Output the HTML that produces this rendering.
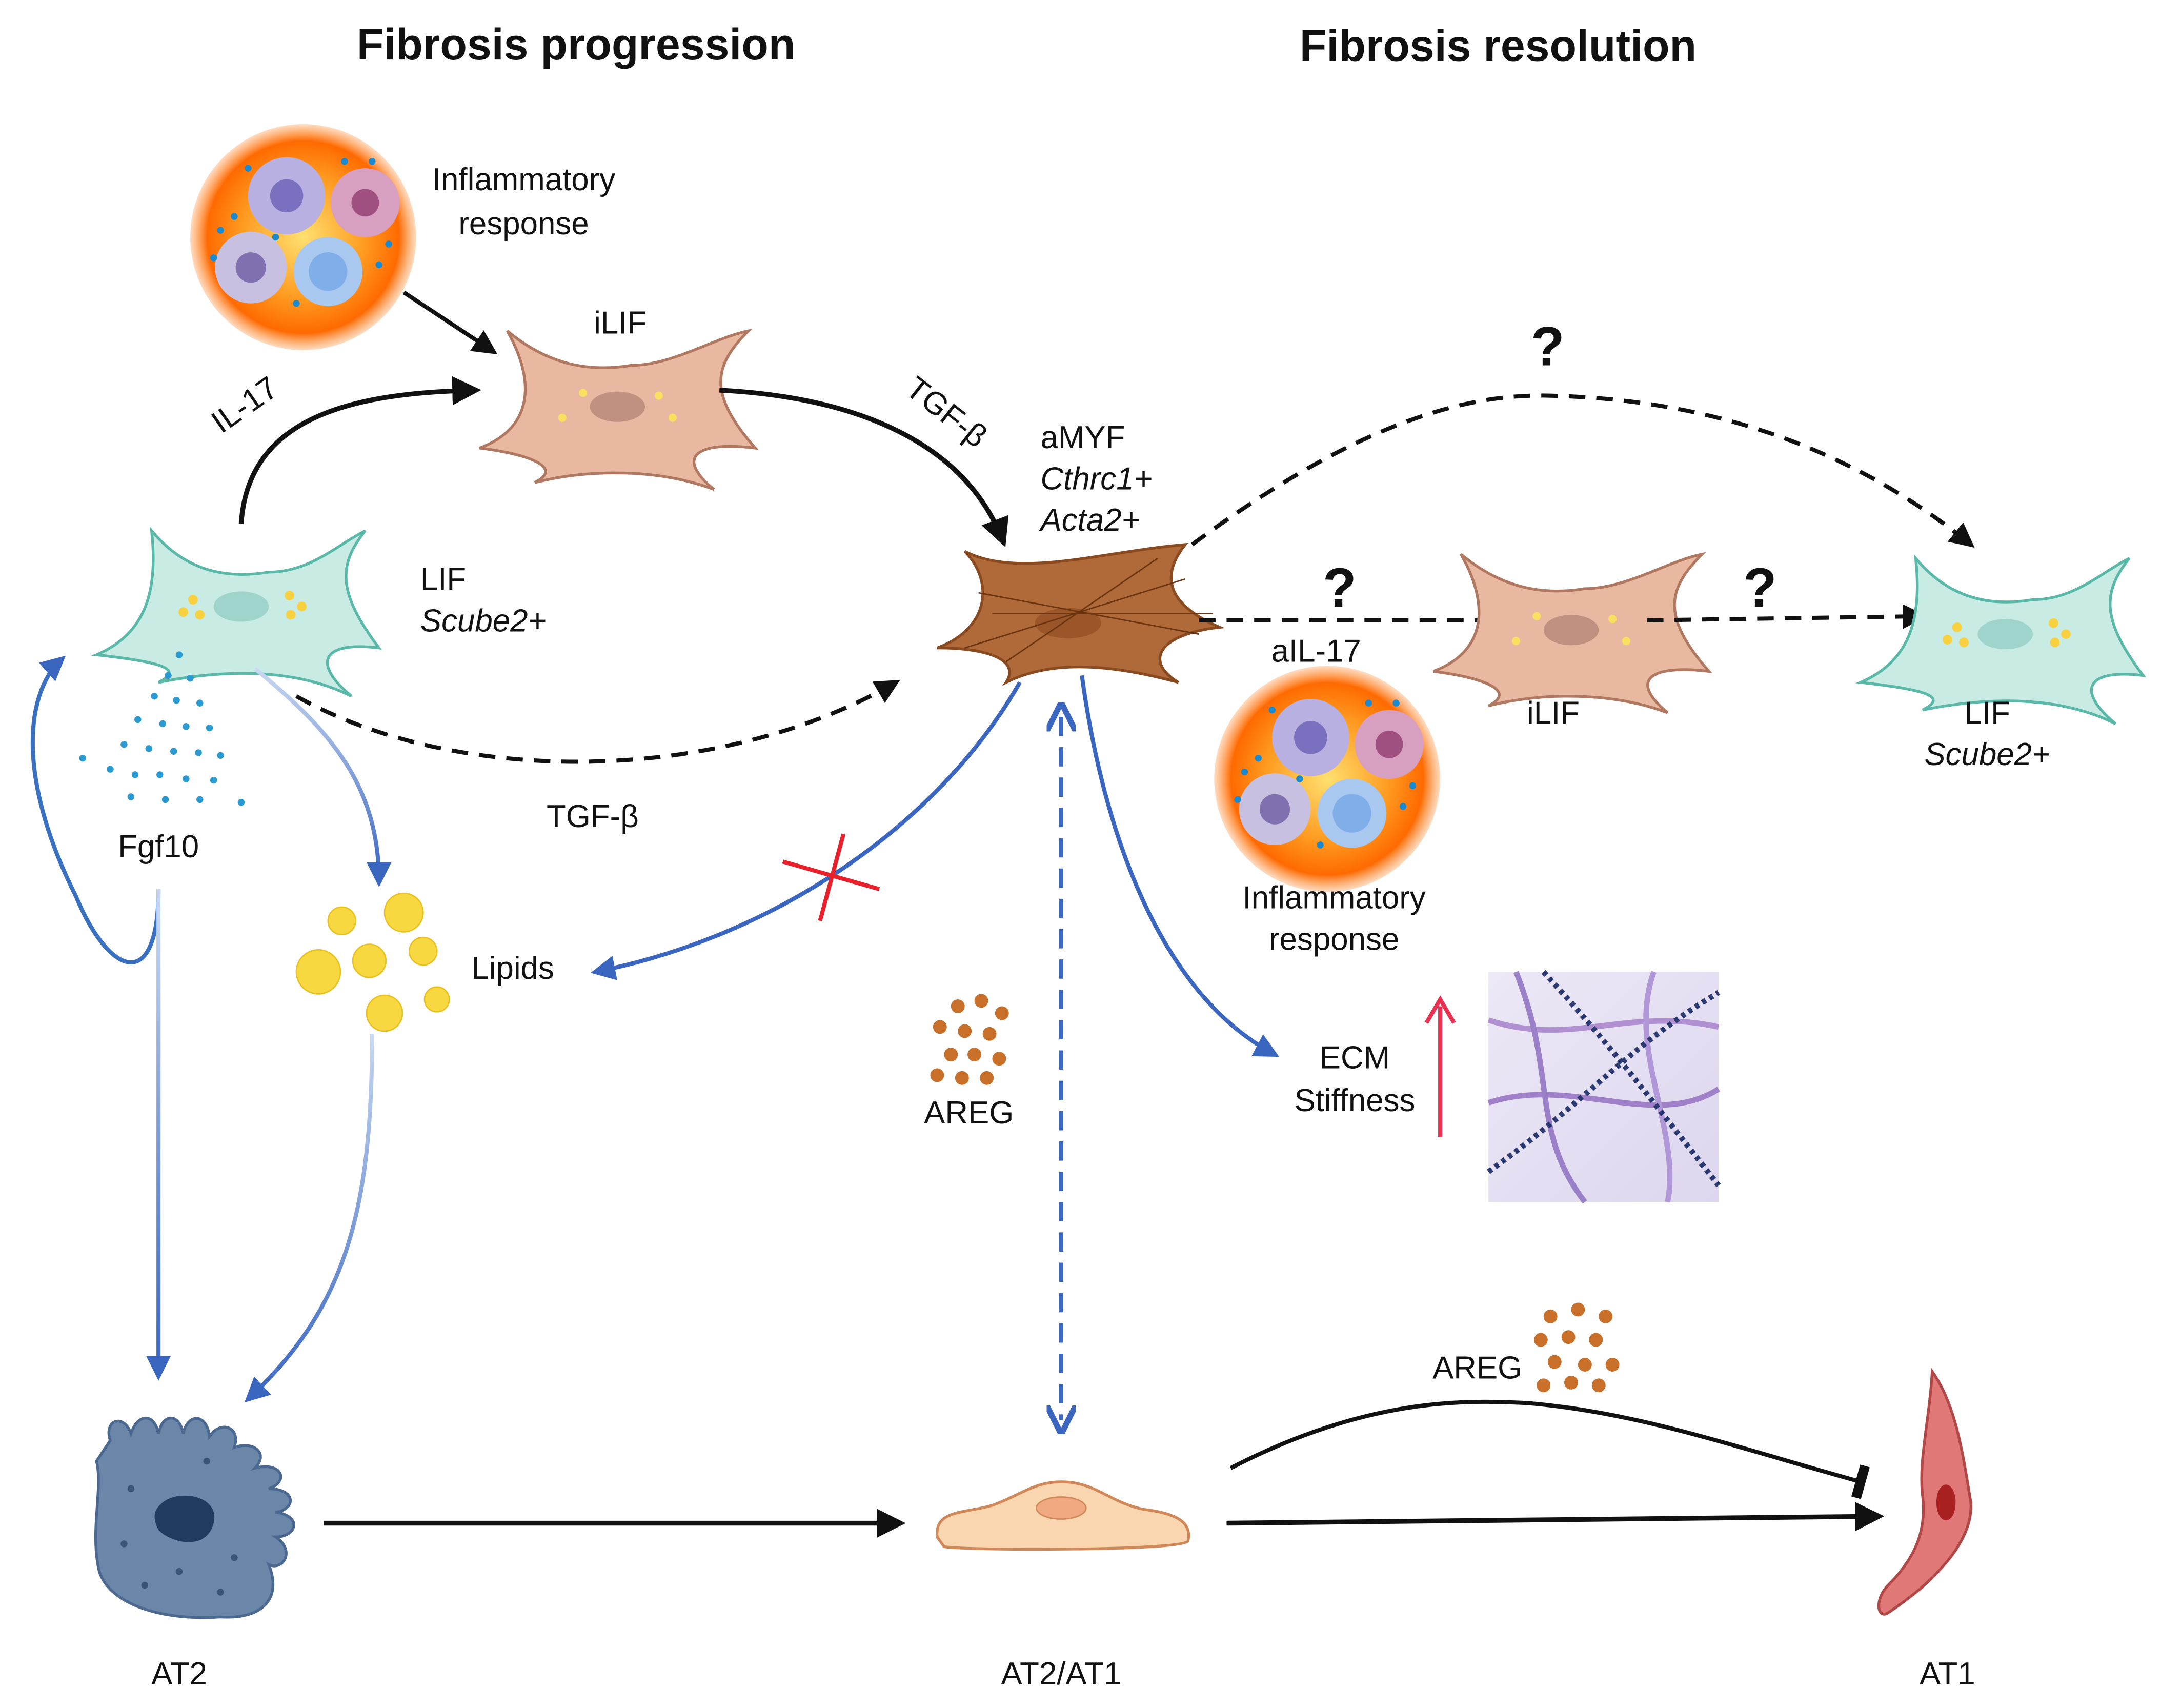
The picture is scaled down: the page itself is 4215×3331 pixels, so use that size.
<!DOCTYPE html>
<html><head><meta charset="utf-8"><style>
html,body{margin:0;padding:0;background:#fff}
svg{display:block}
text{font-family:"Liberation Sans",Arial,sans-serif;fill:#111}
</style></head><body>
<svg width="4215" height="3331" viewBox="0 0 1568 1239" xmlns="http://www.w3.org/2000/svg">
<defs>
<radialGradient id="inf" cx="50%" cy="50%" r="50%">
<stop offset="0" stop-color="#ffe070"/><stop offset="0.55" stop-color="#ff9a20"/><stop offset="0.85" stop-color="#ff6a00"/><stop offset="1" stop-color="#ff8a30" stop-opacity="0.3"/>
</radialGradient>
<marker id="ab" viewBox="0 0 10 10" refX="8" refY="5" markerWidth="6" markerHeight="6" orient="auto"><path d="M0,0L10,5L0,10z" fill="#111"/></marker>
<marker id="abl" viewBox="0 0 10 10" refX="8" refY="5" markerWidth="6" markerHeight="6" orient="auto"><path d="M0,0L10,5L0,10z" fill="#3a66c0"/></marker>
<marker id="abls" viewBox="0 0 10 10" refX="5" refY="5" markerWidth="7" markerHeight="7" orient="auto-start-reverse"><path d="M0,0L10,5L0,10" fill="none" stroke="#3a66c0" stroke-width="2"/></marker>
<marker id="tbar" viewBox="0 0 10 10" refX="5" refY="5" markerWidth="8" markerHeight="8" orient="auto"><path d="M5,-5L5,15" stroke="#111" stroke-width="3"/></marker>
<linearGradient id="ecm" x1="0" y1="0" x2="1" y2="1"><stop offset="0" stop-color="#ece8f6"/><stop offset="1" stop-color="#ddd6ee"/></linearGradient>
<linearGradient id="bv" x1="0" y1="0" x2="0" y2="1"><stop offset="0" stop-color="#c8d8f0"/><stop offset="1" stop-color="#3a66c0"/></linearGradient>
<linearGradient id="bv2" gradientUnits="userSpaceOnUse" x1="0" y1="645" x2="0" y2="1000"><stop offset="0" stop-color="#c8d8f0"/><stop offset="1" stop-color="#3a66c0"/></linearGradient>
<g id="infl">
<circle r="82" fill="url(#inf)"/>
<circle cx="-12" cy="-30" r="28" fill="#b8b0e0"/><circle cx="-12" cy="-30" r="12" fill="#7a70c0"/>
<circle cx="45" cy="-25" r="25" fill="#d8a0c0"/><circle cx="45" cy="-25" r="10" fill="#a05080"/>
<circle cx="-38" cy="22" r="26" fill="#c8c0e0"/><circle cx="-38" cy="22" r="11" fill="#8070b0"/>
<circle cx="18" cy="25" r="25" fill="#a8c8f0"/><circle cx="18" cy="25" r="14" fill="#80aee8"/>
<g fill="#1a8ad0"><circle cx="-60" cy="-5" r="2.5"/><circle cx="-50" cy="-15" r="2.5"/><circle cx="-40" cy="-50" r="2.5"/><circle cx="62" cy="5" r="2.5"/><circle cx="55" cy="20" r="2.5"/><circle cx="-5" cy="48" r="2.5"/><circle cx="-20" cy="0" r="2.5"/><circle cx="30" cy="-55" r="2.5"/><circle cx="-65" cy="15" r="2.5"/><circle cx="50" cy="-55" r="2.5"/></g>
</g>
<g id="tan">
<path d="M-100,30 C-60,15 -60,-20 -80,-55 C-50,-30 -20,-25 10,-30 C40,-30 70,-50 95,-55 C70,-30 65,-10 100,30 C60,25 40,35 70,60 C30,45 -20,45 -60,55 C-40,45 -60,35 -100,30Z" fill="#e8b8a0" stroke="#b07860" stroke-width="2"/>
<ellipse cx="0" cy="0" rx="20" ry="11" fill="#c09080"/>
<g fill="#f8e060"><circle cx="-25" cy="-10" r="3"/><circle cx="-40" cy="8" r="3"/><circle cx="30" cy="-8" r="3"/><circle cx="40" cy="8" r="3"/></g>
</g>
<g id="teal">
<path d="M-105,35 C-70,20 -60,-10 -65,-55 C-40,-25 -10,-20 20,-25 C50,-25 70,-45 90,-55 C70,-30 70,-10 100,30 C60,25 50,40 80,65 C40,45 -10,45 -60,55 C-40,45 -60,40 -105,35Z" fill="#c8ece4" stroke="#5ab8a8" stroke-width="2"/>
<ellipse cx="0" cy="0" rx="20" ry="11" fill="#9ed4cc"/>
<g fill="#f8d040"><circle cx="-35" cy="-5" r="3.5"/><circle cx="-42" cy="4" r="3.5"/><circle cx="-30" cy="6" r="3.5"/><circle cx="35" cy="-8" r="3.5"/><circle cx="44" cy="0" r="3.5"/><circle cx="36" cy="6" r="3.5"/></g>
</g>
</defs>

<text x="418" y="43" font-size="32" font-weight="bold" text-anchor="middle">Fibrosis progression</text>
<text x="1087" y="44" font-size="32" font-weight="bold" text-anchor="middle">Fibrosis resolution</text>

<use href="#infl" x="220" y="172"/>
<text x="380" y="138" font-size="23" text-anchor="middle">Inflammatory</text>
<text x="380" y="170" font-size="23" text-anchor="middle">response</text>
<path d="M293,212 L358,255" stroke="#111" stroke-width="3" marker-end="url(#ab)"/>

<use href="#tan" x="448" y="295"/>
<text x="450" y="242" font-size="23" text-anchor="middle">iLIF</text>

<path d="M175,380 C180,300 260,285 345,283" fill="none" stroke="#111" stroke-width="3.5" marker-end="url(#ab)"/>
<text x="182" y="300" font-size="23" text-anchor="middle" transform="rotate(-35 182 300)">IL-17</text>

<use href="#teal" x="175" y="440"/>
<text x="305" y="428" font-size="23">LIF</text>
<text x="305" y="458" font-size="23" font-style="italic">Scube2+</text>

<path d="M522,283 C620,288 700,320 728,393" fill="none" stroke="#111" stroke-width="3.5" marker-end="url(#ab)"/>
<text x="682" y="305" font-size="23" text-anchor="middle" transform="rotate(38 682 305)">TGF-β</text>

<text x="755" y="325" font-size="23">aMYF</text>
<text x="755" y="355" font-size="23" font-style="italic">Cthrc1+</text>
<text x="755" y="385" font-size="23" font-style="italic">Acta2+</text>

<g>
<path d="M680,470 C720,455 720,420 700,400 C740,420 800,400 860,395 C840,420 850,440 885,455 C840,460 830,480 855,495 C800,480 760,480 730,495 C740,480 720,470 680,470Z" fill="#b06a3a" stroke="#8a4a20" stroke-width="2"/>
<ellipse cx="775" cy="452" rx="24" ry="11" fill="#9a5528"/>
<g stroke="#6a3410" stroke-width="1"><path d="M700,470L860,420"/><path d="M710,430L870,460"/><path d="M730,480L840,405"/><path d="M720,445L880,445"/></g>
</g>

<path d="M215,505 C330,570 520,570 650,495" fill="none" stroke="#111" stroke-width="3" stroke-dasharray="12,8" marker-end="url(#ab)"/>
<text x="430" y="600" font-size="23" text-anchor="middle">TGF-β</text>

<g fill="#2a9ad0">
<circle cx="130" cy="475" r="2.5"/><circle cx="122" cy="490" r="2.5"/><circle cx="138" cy="492" r="2.5"/><circle cx="112" cy="505" r="2.5"/><circle cx="128" cy="508" r="2.5"/><circle cx="145" cy="510" r="2.5"/><circle cx="100" cy="522" r="2.5"/><circle cx="118" cy="525" r="2.5"/><circle cx="135" cy="527" r="2.5"/><circle cx="152" cy="528" r="2.5"/><circle cx="90" cy="540" r="2.5"/><circle cx="108" cy="543" r="2.5"/><circle cx="126" cy="545" r="2.5"/><circle cx="144" cy="546" r="2.5"/><circle cx="160" cy="548" r="2.5"/><circle cx="80" cy="558" r="2.5"/><circle cx="98" cy="562" r="2.5"/><circle cx="116" cy="562" r="2.5"/><circle cx="135" cy="565" r="2.5"/><circle cx="155" cy="566" r="2.5"/><circle cx="60" cy="550" r="2.5"/><circle cx="95" cy="578" r="2.5"/><circle cx="120" cy="580" r="2.5"/><circle cx="145" cy="580" r="2.5"/><circle cx="175" cy="582" r="2.5"/>
</g>
<text x="115" y="622" font-size="23" text-anchor="middle">Fgf10</text>

<path d="M185,485 C240,530 275,570 275,640" fill="none" stroke="url(#bv)" stroke-width="3" marker-end="url(#abl)"/>

<g fill="#f8d840" stroke="#e8c020" stroke-width="1">
<circle cx="248" cy="668" r="10"/><circle cx="293" cy="662" r="14"/><circle cx="231" cy="705" r="16"/><circle cx="268" cy="697" r="12"/><circle cx="307" cy="690" r="10"/><circle cx="279" cy="735" r="13"/><circle cx="317" cy="725" r="9"/>
</g>
<text x="342" y="710" font-size="23">Lipids</text>

<path d="M740,495 C680,600 560,680 432,705" fill="none" stroke="#3a66c0" stroke-width="3" marker-end="url(#abl)"/>
<path d="M568,625 L638,645 M612,605 L595,668" stroke="#e8202a" stroke-width="3"/>

<path d="M115,645 C115,720 80,710 55,650 C10,560 20,500 45,478" fill="none" stroke="#3a70c0" stroke-width="3" marker-end="url(#abl)"/>
<path d="M115,645 L115,998" fill="none" stroke="url(#bv2)" stroke-width="3" marker-end="url(#abl)"/>
<path d="M270,750 C270,880 250,950 180,1015" fill="none" stroke="url(#bv)" stroke-width="3" marker-end="url(#abl)"/>

<g fill="#c8702a">
<circle cx="695" cy="730" r="5"/><circle cx="712" cy="726" r="5"/><circle cx="727" cy="735" r="5"/><circle cx="682" cy="745" r="5"/><circle cx="700" cy="748" r="5"/><circle cx="718" cy="750" r="5"/><circle cx="690" cy="765" r="5"/><circle cx="707" cy="765" r="5"/><circle cx="725" cy="768" r="5"/><circle cx="680" cy="780" r="5"/><circle cx="698" cy="782" r="5"/><circle cx="716" cy="782" r="5"/>
</g>
<text x="703" y="815" font-size="23" text-anchor="middle">AREG</text>

<path d="M770,520 L770,1030" stroke="#3a66c0" stroke-width="3" stroke-dasharray="14,8" marker-start="url(#abls)" marker-end="url(#abls)"/>

<path d="M785,490 C800,600 840,720 925,765" fill="none" stroke="#3a66c0" stroke-width="3" marker-end="url(#abl)"/>
<text x="983" y="775" font-size="23" text-anchor="middle">ECM</text>
<text x="983" y="806" font-size="23" text-anchor="middle">Stiffness</text>
<path d="M1045,825 L1045,730" stroke="#e83050" stroke-width="3"/>
<path d="M1035,742 L1045,725 L1055,742" fill="none" stroke="#e83050" stroke-width="3"/>
<rect x="1080" y="705" width="167" height="167" fill="url(#ecm)"/>
<g fill="none" stroke-width="4">
<path d="M1080,740 C1140,760 1180,730 1247,745" stroke="#b090d0"/>
<path d="M1080,800 C1140,780 1200,820 1247,790" stroke="#a080c8"/>
<path d="M1100,705 C1130,780 1110,820 1150,872" stroke="#9a80c8"/>
<path d="M1200,705 C1180,760 1220,820 1210,872" stroke="#b098d8"/>
<path d="M1080,850 C1150,800 1180,760 1247,720" stroke="#2a3a70" stroke-dasharray="3,3"/>
<path d="M1120,705 C1170,760 1200,800 1247,860" stroke="#2a3a70" stroke-dasharray="3,3"/>
</g>

<path d="M865,395 C980,310 1060,285 1125,287 C1250,290 1350,330 1430,395" fill="none" stroke="#111" stroke-width="3" stroke-dasharray="12,8" marker-end="url(#ab)"/>
<text x="1123" y="265" font-size="40" font-weight="bold" text-anchor="middle">?</text>
<path d="M870,450 L1085,450" stroke="#111" stroke-width="3" stroke-dasharray="12,8"/>
<text x="972" y="440" font-size="40" font-weight="bold" text-anchor="middle">?</text>
<use href="#tan" x="1140" y="457"/>
<text x="1127" y="525" font-size="23" text-anchor="middle">iLIF</text>
<path d="M1195,450 L1395,447" stroke="#111" stroke-width="3" stroke-dasharray="12,8" marker-end="url(#ab)"/>
<text x="1277" y="440" font-size="40" font-weight="bold" text-anchor="middle">?</text>
<use href="#teal" x="1455" y="460"/>
<text x="1442" y="525" font-size="23" text-anchor="middle">LIF</text>
<text x="1442" y="555" font-size="23" font-style="italic" text-anchor="middle">Scube2+</text>

<text x="955" y="480" font-size="23" text-anchor="middle">aIL-17</text>
<use href="#infl" x="963" y="565"/>
<text x="968" y="659" font-size="23" text-anchor="middle">Inflammatory</text>
<text x="968" y="689" font-size="23" text-anchor="middle">response</text>

<path d="M80,1045 C75,1030 90,1025 95,1040 C100,1025 112,1025 115,1040 C118,1025 130,1025 133,1040 C136,1025 150,1025 152,1042 C160,1030 175,1035 170,1050 C185,1045 195,1055 185,1065 C205,1060 210,1075 195,1080 C215,1080 215,1095 200,1097 C220,1100 215,1115 200,1115 C215,1125 205,1140 195,1135 C205,1160 190,1175 160,1173 C120,1176 80,1165 72,1140 C65,1110 75,1080 70,1060 Z" fill="#6a86a8" stroke="#4a6890" stroke-width="2"/>
<path d="M118,1090 C130,1080 160,1085 155,1105 C150,1125 125,1120 115,1110 C110,1100 112,1095 118,1090Z" fill="#203a60"/>
<g fill="#3a5478"><circle cx="95" cy="1080" r="2.5"/><circle cx="150" cy="1060" r="2.5"/><circle cx="90" cy="1120" r="2.5"/><circle cx="130" cy="1140" r="2.5"/><circle cx="170" cy="1130" r="2.5"/><circle cx="105" cy="1150" r="2.5"/><circle cx="160" cy="1155" r="2.5"/></g>
<text x="130" y="1222" font-size="23" text-anchor="middle">AT2</text>

<path d="M235,1105 L653,1105" stroke="#111" stroke-width="3.5" marker-end="url(#ab)"/>

<path d="M680,1115 C678,1095 700,1098 720,1092 C740,1085 750,1075 770,1075 C795,1075 805,1090 830,1095 C855,1098 865,1105 862,1118 C860,1125 700,1125 685,1122 Z" fill="#fad6b0" stroke="#d08858" stroke-width="2"/>
<ellipse cx="770" cy="1094" rx="18" ry="8" fill="#f0a880" stroke="#d08858"/>
<text x="770" y="1222" font-size="23" text-anchor="middle">AT2/AT1</text>

<path d="M890,1105 L1363,1100" stroke="#111" stroke-width="3.5" marker-end="url(#ab)"/>
<path d="M893,1065 C990,1015 1060,1015 1110,1018 C1190,1025 1260,1050 1350,1075" fill="none" stroke="#111" stroke-width="3" marker-end="url(#tbar)"/>
<text x="1072" y="1000" font-size="23" text-anchor="middle">AREG</text>
<g fill="#c8702a">
<circle cx="1125" cy="955" r="5"/><circle cx="1145" cy="950" r="5"/><circle cx="1165" cy="955" r="5"/><circle cx="1118" cy="972" r="5"/><circle cx="1138" cy="970" r="5"/><circle cx="1158" cy="972" r="5"/><circle cx="1128" cy="988" r="5"/><circle cx="1150" cy="990" r="5"/><circle cx="1170" cy="990" r="5"/><circle cx="1120" cy="1005" r="5"/><circle cx="1140" cy="1003" r="5"/><circle cx="1160" cy="1005" r="5"/>
</g>

<path d="M1402,995 C1420,1020 1425,1060 1430,1090 C1432,1120 1400,1150 1370,1170 C1362,1175 1360,1160 1370,1150 C1390,1130 1398,1110 1395,1085 C1392,1060 1400,1030 1402,995Z" fill="#e07878" stroke="#b04848" stroke-width="2"/>
<ellipse cx="1412" cy="1090" rx="7" ry="13" fill="#a82020"/>
<text x="1413" y="1222" font-size="23" text-anchor="middle">AT1</text>
</svg>
</body></html>
